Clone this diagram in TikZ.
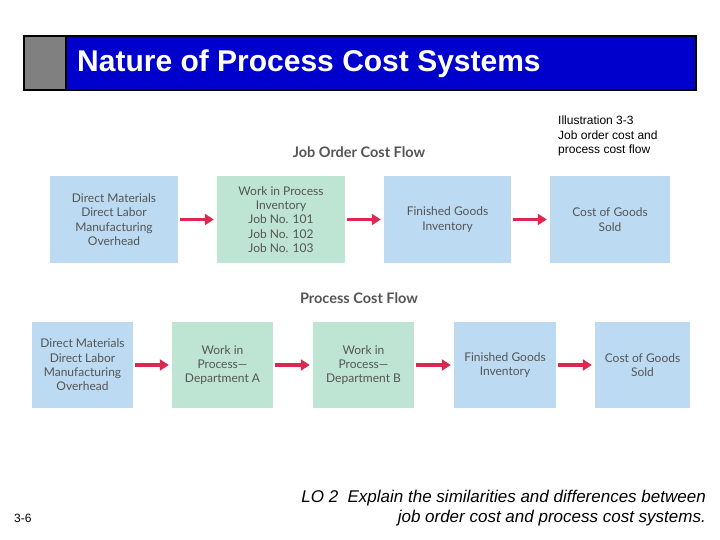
\documentclass[tikz,border=0pt]{standalone}
\usepackage{fontspec}
\setmainfont{Liberation Sans}
\newfontfamily\gill{Lato}
\begin{document}
\begin{tikzpicture}[x=1pt,y=-1pt,
  bx/.style={fill=boxblue,draw=none,font=\gill\fontsize{12}{14.3}\selectfont,text=txtgray,align=center,inner sep=0},
  gx/.style={bx,fill=boxgreen},
  arr/.style={draw=arrred,line width=3.5pt,-{Triangle[length=9pt,width=11pt]}},
  hd/.style={font=\gill\bfseries\fontsize{14.5}{16}\selectfont,text=txtgray}]
\usetikzlibrary{arrows.meta}
\definecolor{boxblue}{RGB}{188,219,242}
\definecolor{boxgreen}{RGB}{190,228,212}
\definecolor{txtgray}{RGB}{85,85,85}
\definecolor{arrred}{RGB}{220,40,80}
\definecolor{hdblue}{RGB}{0,0,204}
\definecolor{hdgray}{RGB}{128,128,128}
\useasboundingbox (0,0) rectangle (720,540);
\fill[white] (0,0) rectangle (720,540);
\fill[hdgray] (24,36) rectangle (66,90);
\fill[hdblue] (66,36) rectangle (696,90);
\draw[line width=1.5pt] (24,36) rectangle (696,90);
\draw[line width=1.5pt] (66,36) -- (66,90);
\node[anchor=west,text=white,font=\bfseries\fontsize{30}{32}\selectfont,inner sep=0] (title) at (77,64) {Nature of Process Cost Systems};
\node[anchor=north west,align=left,font=\fontsize{12}{14.5}\selectfont,inner sep=0] (ill) at (558,116) {Illustration 3-3\\Job order cost and\\process cost flow};
\node[hd] (h1) at (359,152) {Job Order Cost Flow};
\node[bx,minimum width=128,minimum height=87] (a1) at (114,219.5) {Direct Materials\\Direct Labor\\Manufacturing\\Overhead};
\node[gx,minimum width=128,minimum height=87] (a2) at (281,219.5) {Work in Process\\Inventory\\Job No. 101\\Job No. 102\\Job No. 103};
\node[bx,minimum width=127,minimum height=87] (a3) at (447.5,219.5) {Finished Goods\\Inventory};
\node[bx,minimum width=120,minimum height=87] (a4) at (610,219.5) {Cost of Goods\\Sold};
\draw[arr] ([xshift=2]a1.east) -- ([xshift=-3]a2.west);
\draw[arr] ([xshift=2]a2.east) -- ([xshift=-3]a3.west);
\draw[arr] ([xshift=2]a3.east) -- ([xshift=-3]a4.west);
\node[hd] (h2) at (359,298) {Process Cost Flow};
\node[bx,minimum width=101,minimum height=86] (b1) at (82.5,365) {Direct Materials\\Direct Labor\\Manufacturing\\Overhead};
\node[gx,minimum width=101,minimum height=86] (b2) at (222.5,365) {Work in\\Process—\\Department A};
\node[gx,minimum width=101,minimum height=86] (b3) at (363.5,365) {Work in\\Process—\\Department B};
\node[bx,minimum width=102,minimum height=86] (b4) at (505,365) {Finished Goods\\Inventory};
\node[bx,minimum width=95,minimum height=86] (b5) at (642.5,365) {Cost of Goods\\Sold};
\draw[arr] ([xshift=2]b1.east) -- ([xshift=-3]b2.west);
\draw[arr] ([xshift=2]b2.east) -- ([xshift=-3]b3.west);
\draw[arr] ([xshift=2]b3.east) -- ([xshift=-3]b4.west);
\draw[arr] ([xshift=2]b4.east) -- ([xshift=-3]b5.west);
\node[anchor=west,font=\fontsize{12}{14}\selectfont,inner sep=0] (pg) at (14,518) {3-6};
\node[anchor=east,align=right,font=\itshape\fontsize{17}{20}\selectfont,inner sep=0] (lo) at (706,508) {LO 2\ \ Explain the similarities and differences between\\job order cost and process cost systems.};
\end{tikzpicture}
\end{document}
